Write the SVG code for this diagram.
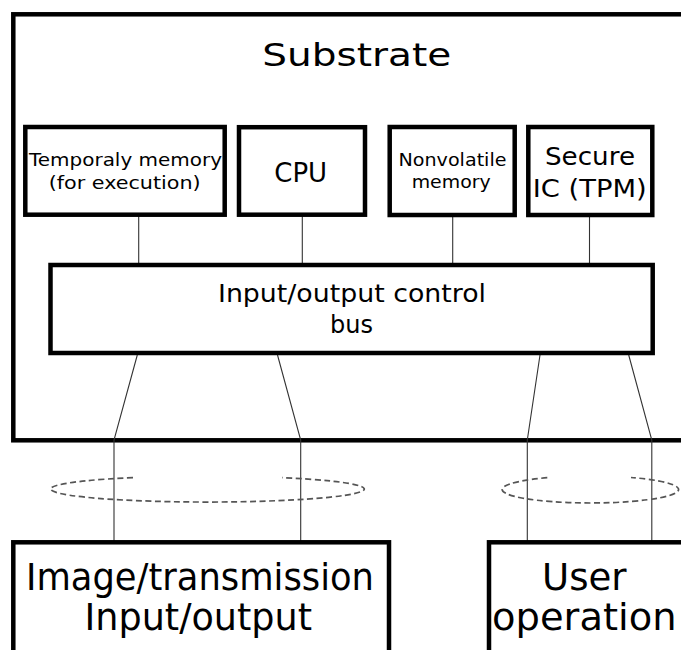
<svg xmlns="http://www.w3.org/2000/svg" width="681" height="650" viewBox="0 0 681 650">
<style>
.box{fill:#fff;stroke:#000;stroke-width:4.5}
.sub{fill:none;stroke:#000;stroke-width:4.5}
.t{font-family:"DejaVu Sans","Liberation Sans",sans-serif;fill:#000;text-anchor:middle}
.c{stroke:#333;stroke-width:1.1;fill:none}
.d{fill:none;stroke:#555;stroke-width:1.7;stroke-dasharray:6 3.5}
</style>
<rect width="681" height="650" fill="#fff"/>
<g id="substrate">
<rect class="sub" x="13.3" y="14.3" width="720" height="426"/>
<text class="t" x="356.7" y="65.5" font-size="32.5" textLength="189" lengthAdjust="spacingAndGlyphs">Substrate</text>
</g>
<g id="connectors">
<line class="c" x1="138.7" y1="215" x2="138.7" y2="265"/>
<line class="c" x1="302.3" y1="215" x2="302.3" y2="265"/>
<line class="c" x1="452.7" y1="215" x2="452.7" y2="265"/>
<line class="c" x1="589.5" y1="215" x2="589.5" y2="265"/>
<polyline class="c" points="137.3,355 114,440 114,542"/>
<polyline class="c" points="277.5,355 300.7,440 300.7,542"/>
<polyline class="c" points="540,355 527.3,440 527.3,542"/>
<polyline class="c" points="628.7,355 651.8,440 651.8,542"/>
</g>
<g id="cable-left">
<path class="d" d="M133 477.6 A156.8 13 0 1 0 282 477.6"/>
</g>
<g id="cable-right">
<path class="d" d="M547.3 477.7 A88.2 13.5 0 1 0 631 477.5"/>
</g>
<g id="temp-memory">
<rect class="box" x="25.3" y="127" width="199.4" height="87.7"/>
<text class="t" x="125.5" y="166" font-size="17.5" textLength="193" lengthAdjust="spacingAndGlyphs">Temporaly memory</text>
<text class="t" x="124.7" y="189" font-size="17.5" textLength="152" lengthAdjust="spacingAndGlyphs">(for execution)</text>
</g>
<g id="cpu">
<rect class="box" x="239" y="127.2" width="126" height="87.5"/>
<text class="t" x="300.7" y="181.7" font-size="26">CPU</text>
</g>
<g id="nonvolatile">
<rect class="box" x="389.7" y="127" width="125" height="88"/>
<text class="t" x="452.5" y="166" font-size="18" textLength="108" lengthAdjust="spacingAndGlyphs">Nonvolatile</text>
<text class="t" x="451.2" y="188" font-size="18" textLength="79" lengthAdjust="spacingAndGlyphs">memory</text>
</g>
<g id="secure-ic">
<rect class="box" x="528.3" y="127" width="124" height="88"/>
<text class="t" x="590" y="165" font-size="25" textLength="90" lengthAdjust="spacingAndGlyphs">Secure</text>
<text class="t" x="589.7" y="197" font-size="25" textLength="114" lengthAdjust="spacingAndGlyphs">IC (TPM)</text>
</g>
<g id="bus">
<rect class="box" x="50.5" y="265" width="602.2" height="88"/>
<text class="t" x="352" y="302" font-size="24" textLength="268" lengthAdjust="spacingAndGlyphs">Input/output control</text>
<text class="t" x="351.5" y="333" font-size="24">bus</text>
</g>
<g id="image-io">
<rect class="box" x="13.3" y="542.3" width="375.7" height="140"/>
<text class="t" x="200" y="590" font-size="38" textLength="348" lengthAdjust="spacingAndGlyphs">Image/transmission</text>
<text class="t" x="198.3" y="630" font-size="38" textLength="227.6" lengthAdjust="spacingAndGlyphs">Input/output</text>
</g>
<g id="user-operation">
<rect class="box" x="489" y="542.3" width="260" height="140"/>
<text class="t" x="584.3" y="590" font-size="38" textLength="84.6" lengthAdjust="spacingAndGlyphs">User</text>
<text class="t" x="584.3" y="630" font-size="38" textLength="184.5" lengthAdjust="spacingAndGlyphs">operation</text>
</g>
</svg>
